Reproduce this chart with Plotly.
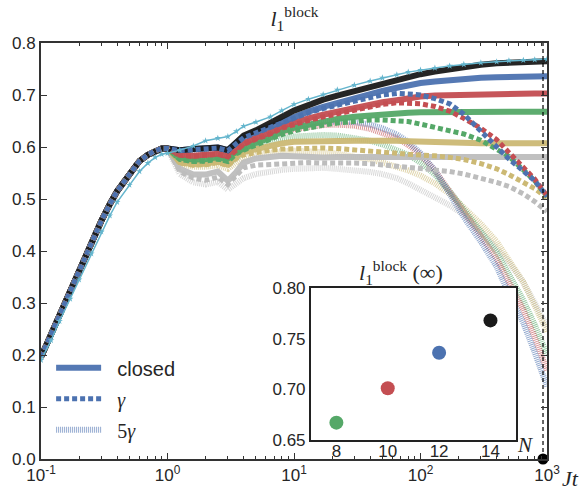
import plotly.graph_objects as go

# ---------------- data ----------------
t_early = [0.1, 0.12, 0.14, 0.17, 0.2, 0.25, 0.3, 0.35, 0.4, 0.5, 0.6, 0.7, 0.8, 0.9, 1.0]
l1_early = [0.196, 0.24, 0.28, 0.325, 0.363, 0.415, 0.458, 0.49, 0.515, 0.547, 0.573, 0.585, 0.593, 0.597, 0.597]

t_late = [1.25, 1.6, 2.0, 2.5, 3.0, 3.5, 4.0, 5.0, 6.5, 8.0, 10, 13, 17, 22, 30, 40, 50, 65, 80,
          100, 130, 170, 220, 300, 400, 500, 650, 800, 1000]

# closed system
closed_N14 = [0.594, 0.596, 0.598, 0.599, 0.594, 0.61, 0.622, 0.632, 0.645, 0.658, 0.67, 0.681, 0.691, 0.699, 0.708,
              0.716, 0.722, 0.729, 0.735, 0.74, 0.745, 0.75, 0.754, 0.758, 0.761, 0.762, 0.763, 0.764, 0.765]
closed_N12 = [0.594, 0.596, 0.598, 0.599, 0.594, 0.61, 0.62, 0.629, 0.64, 0.65, 0.659, 0.668, 0.677, 0.685, 0.694,
              0.702, 0.708, 0.714, 0.719, 0.723, 0.726, 0.729, 0.731, 0.733, 0.734, 0.735, 0.735, 0.736, 0.736]
closed_N10 = [0.585, 0.583, 0.585, 0.587, 0.582, 0.597, 0.607, 0.618, 0.628, 0.64, 0.648, 0.655, 0.662, 0.668, 0.675,
              0.681, 0.686, 0.69, 0.694, 0.697, 0.699, 0.7, 0.701, 0.702, 0.702, 0.703, 0.703, 0.703, 0.703]
closed_N8 = [0.577, 0.573, 0.574, 0.578, 0.574, 0.59, 0.597, 0.608, 0.618, 0.63, 0.637, 0.643, 0.649, 0.654, 0.658,
             0.661, 0.663, 0.665, 0.666, 0.667, 0.667, 0.667, 0.668, 0.668, 0.668, 0.668, 0.668, 0.668, 0.668]
closed_N6 = [0.571, 0.567, 0.568, 0.572, 0.566, 0.582, 0.59, 0.596, 0.603, 0.607, 0.61, 0.611, 0.612, 0.612, 0.612,
             0.612, 0.613, 0.612, 0.611, 0.61, 0.609, 0.608, 0.608, 0.607, 0.607, 0.607, 0.607, 0.607, 0.607]
closed_N4 = [0.558, 0.547, 0.547, 0.553, 0.535, 0.552, 0.57, 0.578, 0.582, 0.583, 0.582, 0.58, 0.58, 0.581, 0.582,
             0.581, 0.581, 0.581, 0.581, 0.581, 0.581, 0.581, 0.581, 0.581, 0.581, 0.581, 0.581, 0.581, 0.581]

# dissipation gamma
gamma_N12 = [0.593, 0.595, 0.597, 0.598, 0.593, 0.608, 0.618, 0.627, 0.638, 0.648, 0.657, 0.666, 0.674, 0.681, 0.689,
             0.695, 0.7, 0.703, 0.702, 0.7, 0.693, 0.683, 0.663, 0.631, 0.6, 0.577, 0.554, 0.535, 0.505]
gamma_N10 = [0.584, 0.582, 0.584, 0.586, 0.581, 0.595, 0.605, 0.615, 0.625, 0.636, 0.644, 0.651, 0.658, 0.664, 0.671,
             0.677, 0.682, 0.685, 0.685, 0.683, 0.678, 0.669, 0.655, 0.636, 0.614, 0.59, 0.56, 0.538, 0.506]
gamma_N8 = [0.576, 0.572, 0.573, 0.577, 0.572, 0.587, 0.594, 0.604, 0.614, 0.624, 0.631, 0.637, 0.642, 0.646, 0.65,
            0.652, 0.652, 0.651, 0.649, 0.644, 0.638, 0.632, 0.625, 0.613, 0.597, 0.582, 0.556, 0.535, 0.505]
gamma_N6 = [0.569, 0.565, 0.566, 0.57, 0.564, 0.578, 0.585, 0.59, 0.594, 0.596, 0.597, 0.598, 0.598, 0.597, 0.595,
            0.592, 0.59, 0.588, 0.586, 0.585, 0.583, 0.58, 0.576, 0.568, 0.558, 0.547, 0.533, 0.52, 0.502]
gamma_N4 = [0.553, 0.54, 0.536, 0.542, 0.528, 0.545, 0.56, 0.565, 0.566, 0.568, 0.57, 0.57, 0.569, 0.57, 0.569,
            0.568, 0.566, 0.564, 0.562, 0.56, 0.557, 0.553, 0.548, 0.54, 0.532, 0.524, 0.51, 0.495, 0.476]

# dissipation 5 gamma
gamma5_N12 = [0.592, 0.593, 0.594, 0.594, 0.588, 0.6, 0.607, 0.618, 0.628, 0.634, 0.64, 0.645, 0.648, 0.649, 0.648,
              0.643, 0.636, 0.624, 0.61, 0.588, 0.555, 0.51, 0.465, 0.418, 0.37, 0.318, 0.262, 0.205, 0.14]
gamma5_N10 = [0.583, 0.581, 0.582, 0.583, 0.578, 0.59, 0.6, 0.612, 0.622, 0.628, 0.634, 0.639, 0.642, 0.643, 0.641,
              0.635, 0.628, 0.617, 0.604, 0.585, 0.555, 0.515, 0.474, 0.43, 0.385, 0.34, 0.287, 0.234, 0.17]
gamma5_N8 = [0.574, 0.57, 0.57, 0.573, 0.567, 0.58, 0.59, 0.602, 0.612, 0.617, 0.62, 0.622, 0.623, 0.622, 0.618,
             0.612, 0.605, 0.595, 0.585, 0.57, 0.547, 0.515, 0.48, 0.44, 0.398, 0.355, 0.305, 0.258, 0.2]
gamma5_N6 = [0.567, 0.562, 0.562, 0.565, 0.558, 0.57, 0.578, 0.585, 0.59, 0.592, 0.593, 0.592, 0.59, 0.587, 0.582,
             0.576, 0.57, 0.562, 0.555, 0.545, 0.53, 0.51, 0.485, 0.452, 0.418, 0.38, 0.34, 0.295, 0.245]
gamma5_N4 = [0.548, 0.532, 0.528, 0.533, 0.518, 0.53, 0.54, 0.548, 0.553, 0.556, 0.558, 0.56, 0.56, 0.558, 0.556,
             0.552, 0.548, 0.54, 0.53, 0.518, 0.503, 0.488, 0.47, 0.437, 0.405, 0.378, 0.34, 0.3, 0.255]

# cyan starred reference curve
ref_early = [0.19, 0.228, 0.265, 0.308, 0.345, 0.395, 0.437, 0.468, 0.494, 0.527, 0.553, 0.569, 0.58, 0.586, 0.588]
ref_late = [0.594, 0.602, 0.612, 0.617, 0.62, 0.63, 0.64, 0.648, 0.658, 0.67, 0.682, 0.692, 0.701, 0.71, 0.719,
            0.727, 0.733, 0.739, 0.744, 0.748, 0.752, 0.756, 0.759, 0.762, 0.764, 0.766, 0.767, 0.768, 0.769]

t_inf = 930
inset_N = [8, 10, 12, 14]
inset_l1 = [0.667, 0.701, 0.736, 0.768]

# ---------------- styles ----------------
C = {14: "#1a1a1a", 12: "#4C72B0", 10: "#C44E52", 8: "#55A868", 6: "#CCB974", 4: "#BDBDBD"}
CYAN = "#64B5CD"
SERIF = "Liberation Serif"
SANS = "Liberation Sans"
TXT = "#262626"
NB = "\u00a0\u00a0"

t_all = t_early + t_late
fig = go.Figure()

gamma5 = {4: gamma5_N4, 6: gamma5_N6, 8: gamma5_N8, 10: gamma5_N10, 12: gamma5_N12}
gamma = {4: gamma_N4, 6: gamma_N6, 8: gamma_N8, 10: gamma_N10, 12: gamma_N12}
closed = {4: closed_N4, 6: closed_N6, 8: closed_N8, 10: closed_N10, 12: closed_N12, 14: closed_N14}

for n in [4, 6, 8, 10, 12]:
    fig.add_trace(go.Scatter(
        x=t_all, y=l1_early + gamma5[n], mode="lines",
        line=dict(color=C[n], width=6, dash="1px,1px"), opacity=0.6,
        name=NB + "<span style='font-family:Liberation Serif'>5<i>γ</i></span>",
        showlegend=(n == 12), legendgroup="c", legendrank=3))

for n in [4, 6, 8, 10, 12, 14]:
    fig.add_trace(go.Scatter(
        x=t_all, y=l1_early + closed[n], mode="lines",
        line=dict(color=C[n], width=6), opacity=0.95,
        name=NB + "closed", showlegend=(n == 12), legendgroup="a", legendrank=1))

for n in [4, 6, 8, 10, 12]:
    fig.add_trace(go.Scatter(
        x=t_all, y=l1_early + gamma[n], mode="lines",
        line=dict(color=C[n], width=5, dash="5px,3px"),
        name=NB + "<span style='font-family:Liberation Serif'><i>γ</i></span>",
        showlegend=(n == 12), legendgroup="b", legendrank=2))

fig.add_trace(go.Scatter(
    x=t_all, y=ref_early + ref_late, mode="lines+markers",
    line=dict(color=CYAN, width=1.5),
    marker=dict(symbol="star", size=5, color=CYAN),
    showlegend=False))

# vertical dashed marker line and dot at t_inf
fig.add_trace(go.Scatter(
    x=[t_inf, t_inf], y=[0, 0.8], mode="lines",
    line=dict(color="black", width=1.2, dash="4px,3px"), showlegend=False))
fig.add_trace(go.Scatter(
    x=[t_inf], y=[0], mode="markers", cliponaxis=False,
    marker=dict(color="black", size=11), showlegend=False))

# inset
fig.add_trace(go.Scatter(
    x=inset_N, y=inset_l1, mode="markers", xaxis="x2", yaxis="y2",
    marker=dict(color=[C[n] for n in inset_N], size=14), showlegend=False))

axis_col = "#333333"
minor_vals = [m * 10 ** e for e in range(-1, 3) for m in range(2, 10)]

fig.update_layout(
    width=583, height=487,
    margin=dict(l=41, r=36, t=43, b=28, autoexpand=False),
    paper_bgcolor="white", plot_bgcolor="white",
    font=dict(family=SANS, size=17, color=TXT),
    title=dict(text="<i>l</i><sub>1</sub><sup>block</sup>", x=0.505, xanchor="center",
               y=0.962, yanchor="middle", automargin=False,
               font=dict(family=SERIF, size=22, color=TXT)),
    xaxis=dict(type="log", range=[-1, 3], domain=[0, 1], automargin=False,
               tickvals=[0.1, 1, 10, 100, 1000],
               ticktext=["10<sup>-1</sup>", "10<sup>0</sup>", "10<sup>1</sup>", "10<sup>2</sup>", "10<sup>3</sup>"],
               ticks="inside", ticklen=6, tickwidth=1, tickcolor=axis_col,
               minor=dict(tickvals=minor_vals, ticks="inside", ticklen=3, tickcolor=axis_col, showgrid=False),
               showline=True, linecolor=axis_col, linewidth=2, mirror="allticks",
               showgrid=False, zeroline=False, tickfont=dict(size=17)),
    yaxis=dict(range=[0, 0.8], dtick=0.1, tickformat=".1f", domain=[0, 1], automargin=False,
               ticks="inside", ticklen=6, tickwidth=1, tickcolor=axis_col,
               showline=True, linecolor=axis_col, linewidth=2, mirror="allticks",
               showgrid=False, zeroline=False, tickfont=dict(size=17)),
    xaxis2=dict(domain=[0.533, 0.939], anchor="y2", range=[7, 15], tickvals=inset_N, automargin=False,
                showline=True, linecolor="#222222", linewidth=1.5, mirror=True,
                ticks="", ticklabelstandoff=-5,
                showgrid=False, zeroline=False, tickfont=dict(size=17)),
    yaxis2=dict(domain=[0.046, 0.411], anchor="x2", range=[0.65, 0.80], dtick=0.05, tickformat=".2f",
                automargin=False,
                showline=True, linecolor="#222222", linewidth=1.5, mirror=True,
                ticks="", showgrid=False, zeroline=False, tickfont=dict(size=17)),
    legend=dict(x=0.02, y=0.266, xanchor="left", yanchor="top", bgcolor="rgba(0,0,0,0)",
                traceorder="grouped", tracegroupgap=2, itemwidth=45,
                font=dict(size=20, color=TXT)),
    showlegend=True,
)

fig.add_annotation(text="<i>Jt</i>", xref="paper", yref="paper", x=1.046, y=-0.046,
                   xanchor="center", yanchor="middle",
                   showarrow=False, font=dict(family=SERIF, size=22, color=TXT))
fig.add_annotation(text="<i>l</i><sub>1</sub><sup>block</sup> (∞)", xref="paper", yref="paper",
                   x=0.712, y=0.448, xanchor="center", yanchor="middle", showarrow=False,
                   font=dict(family=SERIF, size=22, color=TXT))
fig.add_annotation(text="<i>N</i>", xref="paper", yref="paper", x=0.956, y=0.033,
                   xanchor="center", yanchor="middle",
                   showarrow=False, font=dict(family=SERIF, size=21, color=TXT))

fig.write_html("out.html", config={"displayModeBar": False},
               post_script="document.body.style.margin='0';")
